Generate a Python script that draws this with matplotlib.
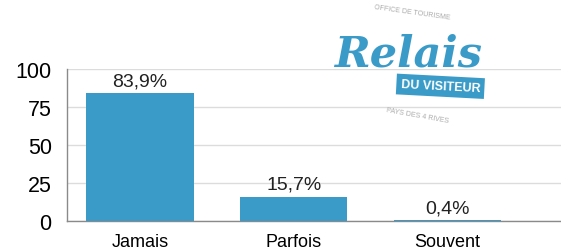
import numpy as np
import matplotlib.pyplot as plt

plt.rcParams['font.family'] = ['Liberation Sans', 'DejaVu Sans']

categories = ["Jamais", "Parfois", "Souvent"]
values = [83.9, 15.7, 0.4]
bar_labels = ["83,9%", "15,7%", "0,4%"]
yticks = [0, 25, 50, 75, 100]

blue = '#3a9bc8'

fig = plt.figure(figsize=(5.61, 2.53), dpi=100)
ax = fig.add_axes([67/561, 31/253, 1 - 67/561, 152/253])

x = np.arange(len(categories))
bars = ax.bar(x, values, 0.70, color=blue, zorder=3)
ax.bar_label(bars, bar_labels, padding=3, fontsize=14, color='#222222')

ax.set_xlim(-0.476, 2.74)
ax.set_ylim(0, 100)
ax.set_yticks(yticks)
ax.set_xticks(x)
ax.set_xticklabels(categories, fontsize=13)
ax.tick_params(axis='y', length=0, pad=11, labelsize=15.5)
ax.tick_params(axis='x', length=0, pad=9)
ax.yaxis.grid(True, color='#dcdcdc', linewidth=1, zorder=0)
for s in ['top', 'right']:
    ax.spines[s].set_visible(False)
for s in ['left', 'bottom']:
    ax.spines[s].set_color('#8a8a8a')
    ax.spines[s].set_linewidth(1)

# logo watermark
fig.text(0.728, 0.785, "Relais", fontsize=31, color=blue, style='italic',
         fontweight='bold', ha='center', va='center', family='DejaVu Serif')
fig.text(0.785, 0.655, "DU VISITEUR", fontsize=9, color='white', fontweight='bold',
         ha='center', va='center', rotation=-3,
         bbox=dict(boxstyle='square,pad=0.35', fc=blue, ec='none'))
fig.text(0.735, 0.95, "OFFICE DE TOURISME", fontsize=5, color='#aaaaaa',
         ha='center', va='center', rotation=-8)
fig.text(0.745, 0.54, "PAYS DES 4 RIVES", fontsize=5, color='#aaaaaa',
         ha='center', va='center', rotation=-10)

fig.savefig('out.png', dpi=100)
